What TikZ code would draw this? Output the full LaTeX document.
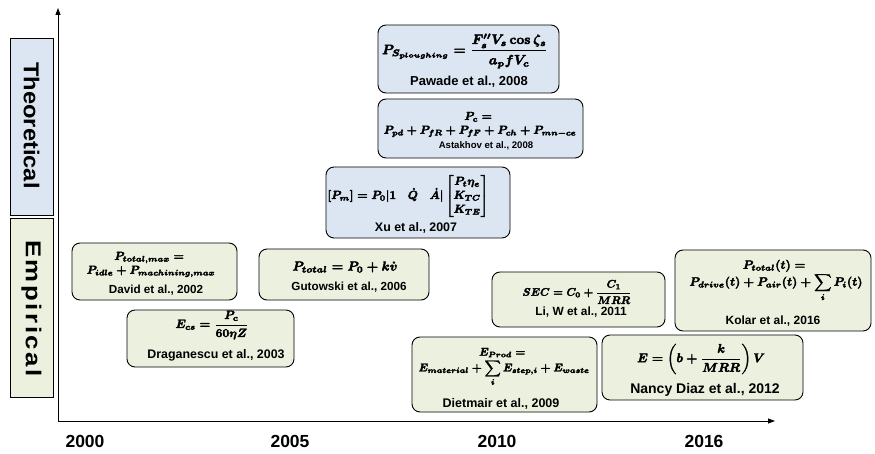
\documentclass[tikz,border=0pt]{standalone}
\usepackage{amsmath}
\usepackage{graphicx}
\usepackage[no-math]{fontspec}
\newfontfamily\lab{Liberation Sans}
\newfontfamily\labB{Liberation Sans}[LetterSpace=10]
\usetikzlibrary{arrows.meta}
\definecolor{tblue}{HTML}{DCE6F2}
\definecolor{egreen}{HTML}{EBF1DE}
\newcommand{\fml}[2]{\resizebox{#1pt}{!}{\special{pdf:literal direct 2 Tr 0.3 w}\boldmath$\displaystyle #2$\special{pdf:literal direct 0 Tr}}}
\begin{document}
\begin{tikzpicture}[x=1pt,y=-1pt,
  box/.style={draw=black, line width=0.9pt, rounded corners=8pt, inner sep=0pt},
  tbox/.style={box, fill=tblue},
  ebox/.style={box, fill=egreen},
  catbox/.style={draw=black, line width=0.7pt, inner sep=0pt, minimum width=43pt},
  cite/.style={font=\lab\bfseries\fontsize{#1}{#1}\selectfont, inner sep=0pt},
  yearlab/.style={font=\lab\bfseries\fontsize{17.5}{17.5}\selectfont, inner sep=0pt},
  fm/.style={inner sep=0pt},
  axis/.style={line width=0.8pt, -{Triangle[length=7pt,width=5pt]}}]
\useasboundingbox (0,0) rectangle (875,454);

% category boxes
\node[catbox, fill=tblue, minimum height=177pt] (theo) at (31.5,126.5) {};
\node[rotate=-90, font=\lab\bfseries\fontsize{21.5}{21.5}\selectfont, inner sep=0pt] (theot) at (31.5,125.5) {\scalebox{1.1}[1]{Theoretical}};
\node[catbox, fill=egreen, minimum height=179pt] (emp) at (31.5,307.5) {};
\node[rotate=-90, font=\labB\bfseries\fontsize{21.5}{21.5}\selectfont, inner sep=0pt] (empt) at (31.5,308.5) {\scalebox{1.2}[1]{Empirical}};

% axes
\coordinate (origin) at (58,421);
\coordinate (ytip) at (58,8);
\coordinate (xtip) at (775,421);
\draw[axis] (origin) -- (ytip);
\draw[axis] (origin) -- (xtip);

% years
\node[yearlab] (y2000) at (85,441) {2000};
\node[yearlab] (y2005) at (290,441) {2005};
\node[yearlab] (y2010) at (497,441) {2010};
\node[yearlab] (y2016) at (704,441) {2016};

% Pawade
\node[tbox, minimum width=181pt, minimum height=68pt] (pawbox) at (468.5,59) {};
\node[fm] (pawf) at (465,51) {\fml{166}{P_{S_{ploughing}} = \frac{F_s^{\prime\prime} V_s \cos\zeta_s}{a_p f V_c}}};
\node[cite=13] (pawc) at (469,82) {Pawade et al., 2008};

% Astakhov
\node[tbox, minimum width=205pt, minimum height=59pt] (astbox) at (480.5,128.5) {};
\node[fm] (astf) at (480,124) {\fml{204}{\begin{array}{c} P_c ={} \\ P_{pd}+P_{fR}+P_{fF}+P_{ch}+P_{mn-ce}\end{array}}};
\node[cite=9.6] (astc) at (486,146) {Astakhov et al., 2008};

% Xu
\node[tbox, minimum width=184pt, minimum height=71pt] (xubox) at (418,202.5) {};
\node[fm] (xuf) at (408,196) {\fml{161}{[P_m] = P_0|1\quad \dot{Q}\quad \dot{A}|\begin{bmatrix} P_t\eta_e \\ K_{TC} \\ K_{TE}\end{bmatrix}}};
\node[cite=12.4] (xuc) at (416,228) {Xu et al., 2007};

% David
\node[ebox, minimum width=165pt, minimum height=57pt] (davbox) at (154.5,271.5) {};
\node[fm] (davf) at (151,264) {\fml{140}{\begin{array}{c} P_{total,max} ={} \\ P_{idle}+P_{machining,max}\end{array}}};
\node[cite=11.7] (davc) at (156,290) {David et al., 2002};

% Gutowski
\node[ebox, minimum width=170pt, minimum height=51pt] (gutbox) at (344,274.5) {};
\node[fm] (gutf) at (345,267) {\fml{105}{P_{total} = P_0 + k\dot{v}}};
\node[cite=11.7] (gutc) at (349,287) {Gutowski et al., 2006};

% Draganescu
\node[ebox, minimum width=167pt, minimum height=57pt] (drabox) at (210.5,338.5) {};
\node[fm] (draf) at (212,325) {\fml{73}{E_{cs} = \frac{P_c}{60\eta Z}}};
\node[cite=12.4] (drac) at (216,355) {Draganescu et al., 2003};

% Dietmair
\node[ebox, minimum width=185pt, minimum height=75pt] (diebox) at (504.5,374.5) {};
\node[fm] (dief) at (504,366) {\fml{182}{\begin{array}{c} E_{Prod} ={} \\ \displaystyle E_{material}+\sum_i E_{step,i}+E_{waste}\end{array}}};
\node[cite=12.5] (diec) at (501,404) {Dietmair et al., 2009};

% Li
\node[ebox, minimum width=173pt, minimum height=55pt] (libox) at (578.5,299.5) {};
\node[fm] (lif) at (577,292) {\fml{109}{SEC = C_0 + \frac{C_1}{MRR}}};
\node[cite=11.9] (lic) at (581,312) {Li, W et al., 2011};

% Nancy Diaz
\node[ebox, minimum width=201pt, minimum height=65pt] (nanbox) at (702.5,367.5) {};
\node[fm] (nanf) at (701,359) {\fml{128}{E = \left(b + \frac{k}{MRR}\right)V}};
\node[cite=14] (nanc) at (705,390) {Nancy Diaz et al., 2012};

% Kolar
\node[ebox, minimum width=196pt, minimum height=81pt] (kolbox) at (773,290.5) {};
\node[fm] (kolf) at (776,280) {\fml{185}{\begin{array}{c} P_{total}(t) ={} \\ \displaystyle P_{drive}(t)+P_{air}(t)+\sum_i P_i(t)\end{array}}};
\node[cite=12] (kolc) at (773,321) {Kolar et al., 2016};
\end{tikzpicture}
\end{document}
